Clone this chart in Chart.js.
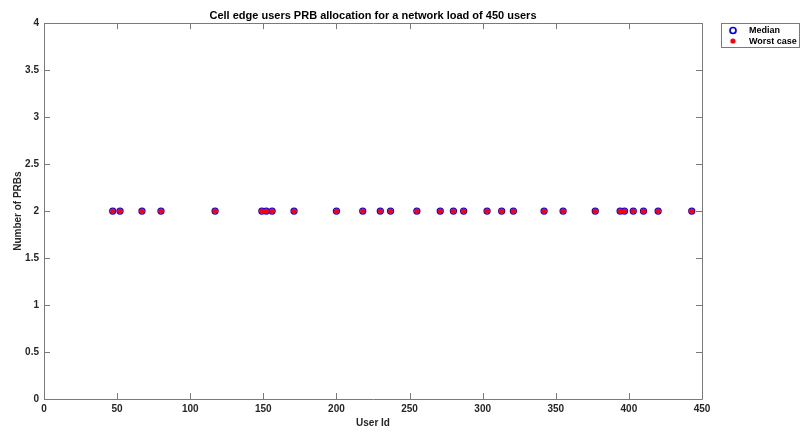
<!DOCTYPE html>
<html>
<head>
<meta charset="utf-8">
<script src="https://cdn.jsdelivr.net/npm/chart.js@4/dist/chart.umd.min.js"></script>
<style>
  html, body { margin: 0; padding: 0; background: #ffffff; }
  canvas { display: block; }
</style>
</head>
<body>
<canvas id="prb" width="803" height="434"></canvas>
<script>
// Cell-edge users (user ids) and their allocated PRB counts
const userIds = [47, 52, 67, 80, 117, 149, 152, 156, 171, 200, 218, 230, 237, 255,
                 271, 280, 287, 303, 313, 321, 342, 355, 377, 394, 397, 403, 410, 420, 443];
const medianPRBs = [2, 2, 2, 2, 2, 2, 2, 2, 2, 2, 2, 2, 2, 2,
                    2, 2, 2, 2, 2, 2, 2, 2, 2, 2, 2, 2, 2, 2, 2];
const worstCasePRBs = [2, 2, 2, 2, 2, 2, 2, 2, 2, 2, 2, 2, 2, 2,
                       2, 2, 2, 2, 2, 2, 2, 2, 2, 2, 2, 2, 2, 2, 2];
const seriesLabels = ['Median', 'Worst case'];
const xTickValues = [0, 50, 100, 150, 200, 250, 300, 350, 400, 450];
const yTickValues = [0, 0.5, 1, 1.5, 2, 2.5, 3, 3.5, 4];

const FONT = "'Liberation Sans', Arial, Helvetica, sans-serif";
const AXIS_GRAY = '#7a7a7a';
const TEXT_DARK = '#262626';

const toPoints = (ys) => userIds.map((u, i) => ({ x: u, y: ys[i] }));

// Box around the axes with short inward tick marks on all four sides
const boxAxes = {
  id: 'boxAxes',
  afterDraw(chart) {
    const { ctx, chartArea: a, scales: { x, y } } = chart;
    const len = 6;
    ctx.save();
    ctx.strokeStyle = AXIS_GRAY;
    ctx.lineWidth = 1;
    ctx.beginPath();
    ctx.rect(Math.round(a.left) + 0.5, Math.round(a.top) + 0.5,
             Math.round(a.right - a.left), Math.round(a.bottom - a.top));
    x.ticks.forEach(t => {
      const px = Math.round(x.getPixelForValue(t.value)) + 0.5;
      ctx.moveTo(px, a.bottom); ctx.lineTo(px, a.bottom - len);
      ctx.moveTo(px, a.top); ctx.lineTo(px, a.top + len);
    });
    y.ticks.forEach(t => {
      const py = Math.round(y.getPixelForValue(t.value)) + 0.5;
      ctx.moveTo(a.left, py); ctx.lineTo(a.left + len, py);
      ctx.moveTo(a.right, py); ctx.lineTo(a.right - len, py);
    });
    ctx.stroke();
    ctx.restore();
  }
};

// Framed legend in the top-right corner, built from the dataset styles
const framedLegend = {
  id: 'framedLegend',
  afterDraw(chart) {
    const { ctx } = chart;
    const left = 721, top = 23, width = 78, height = 24;
    ctx.save();
    ctx.fillStyle = '#ffffff';
    ctx.fillRect(left, top, width, height);
    ctx.strokeStyle = AXIS_GRAY;
    ctx.lineWidth = 1;
    ctx.strokeRect(left + 0.5, top + 0.5, width, height);
    ctx.font = 'bold 9px ' + FONT;
    ctx.textBaseline = 'middle';
    ctx.textAlign = 'left';
    chart.data.datasets.forEach((ds, i) => {
      const cy = top + 7.5 + i * 10.5;
      const cx = left + 12;
      ctx.beginPath();
      ctx.arc(cx, cy, ds.pointRadius, 0, Math.PI * 2);
      if (ds.pointBorderWidth > 0) {
        ctx.lineWidth = ds.pointBorderWidth + 0.4;
        ctx.strokeStyle = ds.pointBorderColor;
        ctx.stroke();
      } else {
        ctx.fillStyle = ds.pointBackgroundColor;
        ctx.fill();
      }
      ctx.fillStyle = '#000000';
      ctx.fillText(ds.label, left + 28, cy + 0.5);
    });
    ctx.restore();
  }
};

new Chart(document.getElementById('prb'), {
  type: 'scatter',
  data: {
    datasets: [
      {
        label: seriesLabels[0],
        data: toPoints(medianPRBs),
        pointRadius: 3,
        pointBorderWidth: 1.3,
        pointBorderColor: '#0000ff',
        pointBackgroundColor: 'rgba(0,0,0,0)',
        order: 1
      },
      {
        label: seriesLabels[1],
        data: toPoints(worstCasePRBs),
        pointRadius: 2.6,
        pointBorderWidth: 0,
        pointBorderColor: '#ff0000',
        pointBackgroundColor: '#ff0000',
        order: 0
      }
    ]
  },
  options: {
    responsive: false,
    animation: false,
    devicePixelRatio: 1,
    layout: { padding: { left: 0, right: 101, top: 0, bottom: 0 } },
    plugins: {
      legend: { display: false },
      tooltip: { enabled: false },
      title: {
        display: true,
        fullSize: false,
        text: 'Cell edge users PRB allocation for a network load of 450 users',
        color: '#000000',
        font: { family: FONT, size: 11, weight: 'bold' },
        padding: { top: 9, bottom: 1 }
      }
    },
    scales: {
      x: {
        type: 'linear',
        min: 0,
        max: 450,
        afterBuildTicks: (s) => { s.ticks = xTickValues.map(v => ({ value: v })); },
        afterFit: (s) => { s.height = 35; },
        grid: { display: false, drawTicks: false },
        border: { display: false },
        ticks: {
          color: TEXT_DARK,
          padding: 4,
          maxRotation: 0,
          callback: (v) => String(v),
          font: { family: FONT, size: 10, weight: 'bold' }
        },
        title: {
          display: true,
          text: 'User Id',
          color: TEXT_DARK,
          font: { family: FONT, size: 10, weight: 'bold' },
          padding: { top: 0, bottom: 5 }
        }
      },
      y: {
        type: 'linear',
        min: 0,
        max: 4,
        afterBuildTicks: (s) => { s.ticks = yTickValues.map(v => ({ value: v })); },
        afterFit: (s) => { s.width = 44; },
        grid: { display: false, drawTicks: false },
        border: { display: false },
        ticks: {
          color: TEXT_DARK,
          padding: 5,
          callback: (v) => String(v),
          font: { family: FONT, size: 10, weight: 'bold' }
        },
        title: {
          display: true,
          text: 'Number of PRBs',
          color: TEXT_DARK,
          font: { family: FONT, size: 10, weight: 'bold' },
          padding: { top: 12, bottom: 0 }
        }
      }
    }
  },
  plugins: [boxAxes, framedLegend]
});
</script>
</body>
</html>
